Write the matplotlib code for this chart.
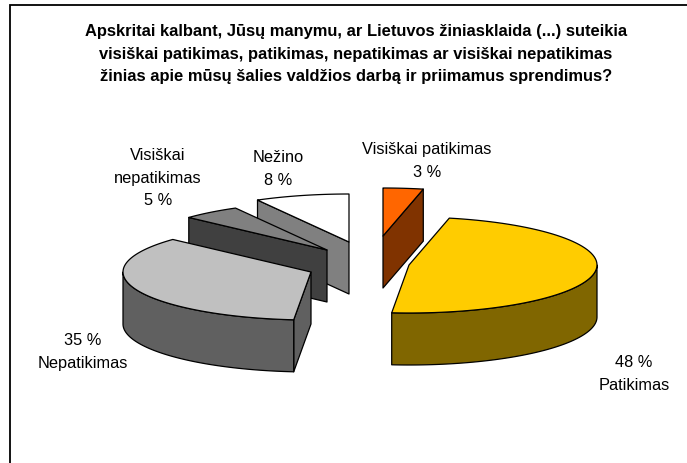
import numpy as np
import matplotlib
matplotlib.use("Agg")
import matplotlib.pyplot as plt
from matplotlib.patches import Polygon

title = ("Apskritai kalbant, Jūsų manymu, ar Lietuvos žiniasklaida (...) suteikia\n"
         "visiškai patikimas, patikimas, nepatikimas ar visiškai nepatikimas\n"
         "žinias apie mūsų šalies valdžios darbą ir priimamus sprendimus?")

# clockwise from 12 o'clock, unrounded shares
names = ["Visiškai patikimas", "Patikimas", "Nepatikimas", "Visiškai nepatikimas", "Nežino"]
values = [3.4, 47.5, 35, 5, 8]
top_colors = ["#FF6600", "#FFCC00", "#C0C0C0", "#808080", "#FFFFFF"]
side_colors = ["#803300", "#806600", "#606060", "#404040", "#808080"]

labels = ["Visiškai patikimas\n3 %", "48 %\nPatikimas", "35 %\nNepatikimas",
          "Visiškai\nnepatikimas\n5 %", "Nežino\n8 %"]
label_x = [427, 634, 83, 158, 278]
label_y = [161, 374, 352, 178, 169]

# where each exploded slice's tip ends up, in pixels
tip_x = [383, 409, 311, 327, 349]
tip_y = [236, 265, 272, 250, 242]
rx, ry, depth = 188, 48, 52
draw_order = [4, 3, 2, 0, 1]

W, H = 687, 463
fig = plt.figure(figsize=(W / 100, H / 100), dpi=100)
ax = fig.add_axes([0, 0, 1, 1])
ax.set_xlim(0, W)
ax.set_ylim(H, 0)
ax.axis("off")
plt.rcParams["font.family"] = "Liberation Sans"

# the chart frame is cropped, only its left and top sides are in the picture
ax.plot([10, 10, W], [H, 5, 5], color="black", lw=1.3, solid_joinstyle="miter")


def rim(cx, cy, a, b):
    t = np.radians(np.linspace(a, b, 80))
    return np.column_stack([cx + rx * np.sin(t), cy - ry * np.cos(t)])


def draw_slice(i, a, b):
    cx, cy = tip_x[i], tip_y[i]
    tip = np.array([cx, cy])
    edge = dict(ec="black", lw=0.9, joinstyle="round")
    # flat cut faces that turn towards the viewer
    for ang, normal in ((a, a - 90), (b, b + 90)):
        if np.cos(np.radians(normal)) < -1e-6:
            p = rim(cx, cy, ang, ang)[0]
            pts = [tip, p, p + [0, depth], tip + [0, depth]]
            ax.add_patch(Polygon(pts, fc=side_colors[i], **edge))
    # outer wall, only the front half shows
    lo, hi = max(a, 90), min(b, 270)
    if lo < hi:
        arc = rim(cx, cy, lo, hi)
        pts = np.vstack([arc, (arc + [0, depth])[::-1]])
        ax.add_patch(Polygon(pts, fc=side_colors[i], **edge))
    pts = np.vstack([tip, rim(cx, cy, a, b)])
    ax.add_patch(Polygon(pts, fc=top_colors[i], **edge))


angles = np.cumsum([0] + values) / sum(values) * 360
for i in draw_order:
    draw_slice(i, angles[i], angles[i + 1])

for txt, x, y in zip(labels, label_x, label_y):
    ax.text(x, y, txt, ha="center", va="center", fontsize=11.8, linespacing=1.6, color="black")

ax.text(356, 54, title, ha="center", va="center", fontsize=11.9, fontweight="bold", linespacing=1.65)

fig.savefig("out.png", dpi=100)
